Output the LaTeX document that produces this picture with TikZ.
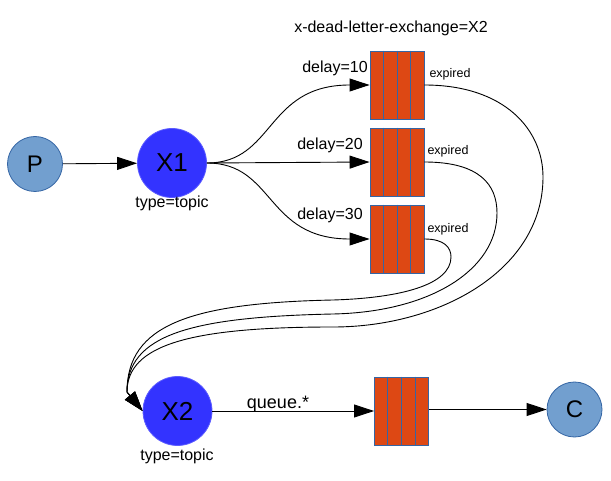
\documentclass[tikz,border=0pt]{standalone}
\usepackage{fontspec}
\setmainfont{Liberation Sans}
\usetikzlibrary{arrows.meta,calc}
\definecolor{xfill}{HTML}{3333FF}
\definecolor{pcfill}{HTML}{729FCF}
\definecolor{bord}{HTML}{3465A4}
\definecolor{qfill}{HTML}{DD4814}
\tikzset{
  x=1pt,y=-1pt,
  conn/.style={line width=0.9pt,-{Triangle[length=20pt,width=13pt]}},
  xnode/.style={circle,fill=xfill,draw=xfill!80!white,line width=0.8pt,minimum size=69pt,inner sep=0pt,font=\fontsize{26}{26}\selectfont},
  pcnode/.style={circle,fill=pcfill,draw=bord,line width=0.8pt,minimum size=55pt,inner sep=0pt,font=\fontsize{24}{24}\selectfont},
  queue/.style={rectangle,fill=qfill,draw=bord,line width=0.9pt,minimum width=54pt,minimum height=68pt,inner sep=0pt},
  stripe/.style={draw=bord,line width=0.9pt},
  lbl/.style={inner sep=0pt,anchor=base,font=\fontsize{16}{16}\selectfont},
  small/.style={inner sep=0pt,anchor=base,font=\fontsize{12.5}{12.5}\selectfont},
}
\begin{document}
\begin{tikzpicture}
\useasboundingbox (0,0) rectangle (611,481);
\node[pcnode] (P) at (35,164) {P};
\node[xnode] (X1) at (172,163) {X1};
\node[xnode] (X2) at (177.5,411) {X2};
\node[pcnode] (C) at (574.5,409.5) {C};
\node[queue] (q1) at (397,85) {};
\node[queue] (q2) at (397,162) {};
\node[queue] (q3) at (397,239) {};
\node[queue] (q4) at (401.5,411) {};
\foreach \q in {q1,q2,q3,q4}{
  \foreach \i in {1,2,3}{
    \draw[stripe] ($(\q.north west)!\i/4!(\q.north east)$) -- ($(\q.south west)!\i/4!(\q.south east)$);
  }
}

\node[lbl] (title) at (391,33) {x-dead-letter-exchange=X2};
\node[lbl] (d10) at (335,73) {delay=10};
\node[lbl] (d20) at (330,150) {delay=20};
\node[lbl] (d30) at (330,220) {delay=30};
\node[small] (e1) at (450,78) {expired};
\node[small] (e2) at (448,155) {expired};
\node[small] (e3) at (448,233) {expired};
\node[lbl] (t1) at (172,208) {type=topic};
\node[lbl] (t2) at (177,460) {type=topic};
\node[lbl,font=\fontsize{18}{18}\selectfont] (qs) at (278,408) {queue.*};

\draw[conn] (P) -- (X1);
\draw[conn] (X1.east) .. controls (275,163) and (265,85) .. (q1.west);
\draw[conn] (X1.east) -- (q2.west);
\draw[conn] (X1.east) .. controls (275,163) and (265,239) .. (q3.west);
\draw[conn] (X2.east) -- (X2.east -| q4.west);
\draw[conn] (q4.east |- C.west) -- (C.west);

\coordinate (m) at (127,392);
\draw[conn] (q1.east) .. controls (505,85) and (543,130) .. (543,177)
  .. controls (543,270) and (440,327) .. (333,327)
  .. controls (190,327) and (127,345) .. (m) -- (X2.west);
\draw[conn] (q2.east) .. controls (480,162) and (497,185) .. (497,213)
  .. controls (497,270) and (430,312) .. (333,314)
  .. controls (190,317) and (127,335) .. (m) -- (X2.west);
\draw[conn] (q3.east) .. controls (445,239) and (451,248) .. (451,257)
  .. controls (451,285) and (400,298) .. (333,300)
  .. controls (190,303) and (127,325) .. (m) -- (X2.west);
\end{tikzpicture}
\end{document}
